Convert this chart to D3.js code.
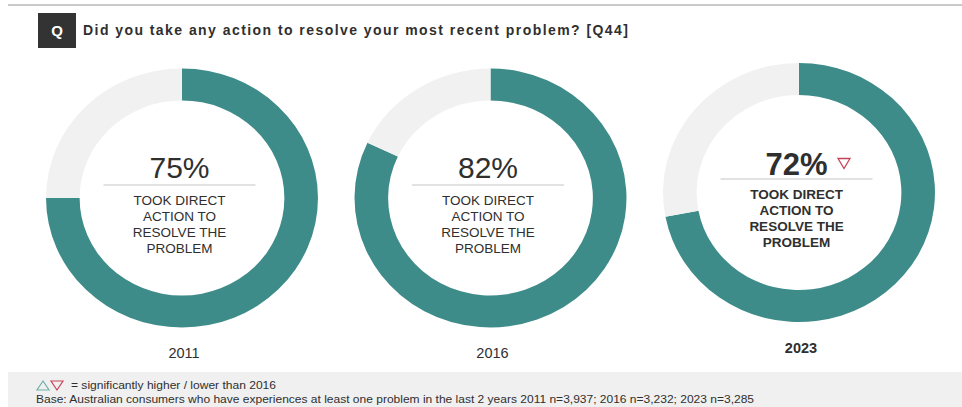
<!DOCTYPE html>
<html>
<head>
<meta charset="utf-8">
<script src="https://cdn.jsdelivr.net/npm/d3@7"></script>
<style>
  html, body { margin: 0; padding: 0; background: #ffffff; }
  svg { display: block; }
  text { font-family: Arial, "Liberation Sans", sans-serif; }
  text.narrow { font-family: "Liberation Sans Narrow", "Arial Narrow", Arial, sans-serif; }
</style>
</head>
<body>
<svg id="chart" width="962" height="407"></svg>
<script>
// Survey results: share who took direct action, by survey year
const years = ["2011", "2016", "2023"];
const tookAction = [75, 82, 72];
const significance = [null, null, "lower"];   // versus 2016
const centreLabel = ["TOOK DIRECT", "ACTION TO", "RESOLVE THE", "PROBLEM"];
const questionText = "Did you take any action to resolve your most recent problem? [Q44]";
const legendText = "= significantly higher / lower than 2016";
const baseText = "Base: Australian consumers who have experiences at least one problem in the last 2 years 2011 n=3,937; 2016 n=3,232; 2023 n=3,285";

const W = 962, H = 407;
const teal = "#3e8c8a", rest = "#f1f1f1", ink = "#2f2f2f", red = "#c8435a", green = "#6fb1aa";

const svg = d3.select("#chart");

// top rule
svg.append("rect").attr("x", 8).attr("y", 4).attr("width", W - 8).attr("height", 2).attr("fill", "#c9c9c9");

// question header
svg.append("rect").attr("x", 38).attr("y", 13).attr("width", 38).attr("height", 35).attr("fill", "#333333");
svg.append("text").attr("x", 57).attr("y", 36).attr("text-anchor", "middle")
  .attr("fill", "#ffffff").attr("font-weight", "bold").attr("font-size", 15).text("Q");
svg.append("text").attr("class", "narrow").attr("x", 83).attr("y", 35).attr("fill", ink)
  .attr("font-weight", "bold").attr("font-size", 14)
  .attr("textLength", 545).attr("lengthAdjust", "spacing")
  .text(questionText);

// donut layout
const x = d3.scalePoint().domain(years).range([182, 799]);
const yShift = { "2011": 0, "2016": 0, "2023": -5.5 };
const cy = 198;
const outerR = 129.5, innerR = 97.5, stretch = 1.05;

const pie = d3.pie().sort(null).value(d => d.v);
const arc = d3.arc().innerRadius(innerR).outerRadius(outerR);

const rows = years.map((y, i) => ({ year: y, value: tookAction[i], sig: significance[i], bold: y === "2023" }));

const g = svg.selectAll("g.donut").data(rows).join("g").attr("class", "donut")
  .attr("transform", d => `translate(${x(d.year)},${cy + yShift[d.year]})`);

g.append("g").attr("transform", `scale(${stretch},1)`)
  .selectAll("path")
  .data(d => pie([{ k: "yes", v: d.value }, { k: "no", v: 100 - d.value }]))
  .join("path")
  .attr("d", arc)
  .attr("fill", d => d.data.k === "yes" ? teal : rest);

// centre labels
const label = g.append("g").attr("transform", "translate(-2.5,0)");

label.append("text")
  .attr("y", d => d.bold ? -17.5 : -20)
  .attr("text-anchor", "middle")
  .attr("fill", ink)
  .attr("font-size", d => d.bold ? 31 : 30)
  .attr("font-weight", d => d.bold ? "bold" : "normal")
  .text(d => d.value + "%");

label.append("line")
  .attr("x1", -76).attr("x2", 76)
  .attr("y1", d => d.bold ? -13.5 : -13).attr("y2", d => d.bold ? -13.5 : -13)
  .attr("stroke", "#d9d9d9").attr("stroke-width", 1.5);

label.each(function (d) {
  const t = d3.select(this).append("text")
    .attr("text-anchor", "middle").attr("fill", ink)
    .attr("font-size", 13.5).attr("font-weight", d.bold ? "bold" : "normal");
  centreLabel.forEach((line, i) => {
    t.append("tspan").attr("x", 0).attr("y", (d.bold ? 6.5 : 7) + i * 16).text(line);
  });
});

// significance marker (down triangle = lower)
g.filter(d => d.sig === "lower").append("path")
  .attr("d", "M-6,-5 L6,-5 L0,5 Z")
  .attr("transform", "translate(45,-29)")
  .attr("fill", "none").attr("stroke", red).attr("stroke-width", 1.3);

// year captions
svg.selectAll("text.year").data(rows).join("text").attr("class", "year")
  .attr("x", d => x(d.year) + 2)
  .attr("y", d => (d.bold ? 353 : 358))
  .attr("text-anchor", "middle").attr("fill", ink)
  .attr("font-size", 14.5).attr("font-weight", d => d.bold ? "bold" : "normal")
  .text(d => d.year);

// footer
svg.append("rect").attr("x", 8).attr("y", 372).attr("width", W - 8).attr("height", H - 372).attr("fill", "#f0f0f0");
svg.append("path").attr("d", "M37,390 L49,390 L43,381 Z").attr("fill", "none").attr("stroke", green).attr("stroke-width", 1.2);
svg.append("path").attr("d", "M51,381 L63,381 L57,390 Z").attr("fill", "none").attr("stroke", red).attr("stroke-width", 1.2);
svg.append("text").attr("class", "narrow").attr("x", 71).attr("y", 389).attr("fill", ink).attr("font-size", 11.5)
  .attr("textLength", 205).attr("lengthAdjust", "spacingAndGlyphs").text(legendText);
svg.append("text").attr("class", "narrow").attr("x", 36).attr("y", 403).attr("fill", ink).attr("font-size", 11.5)
  .attr("textLength", 718).attr("lengthAdjust", "spacingAndGlyphs").text(baseText);
</script>
</body>
</html>
